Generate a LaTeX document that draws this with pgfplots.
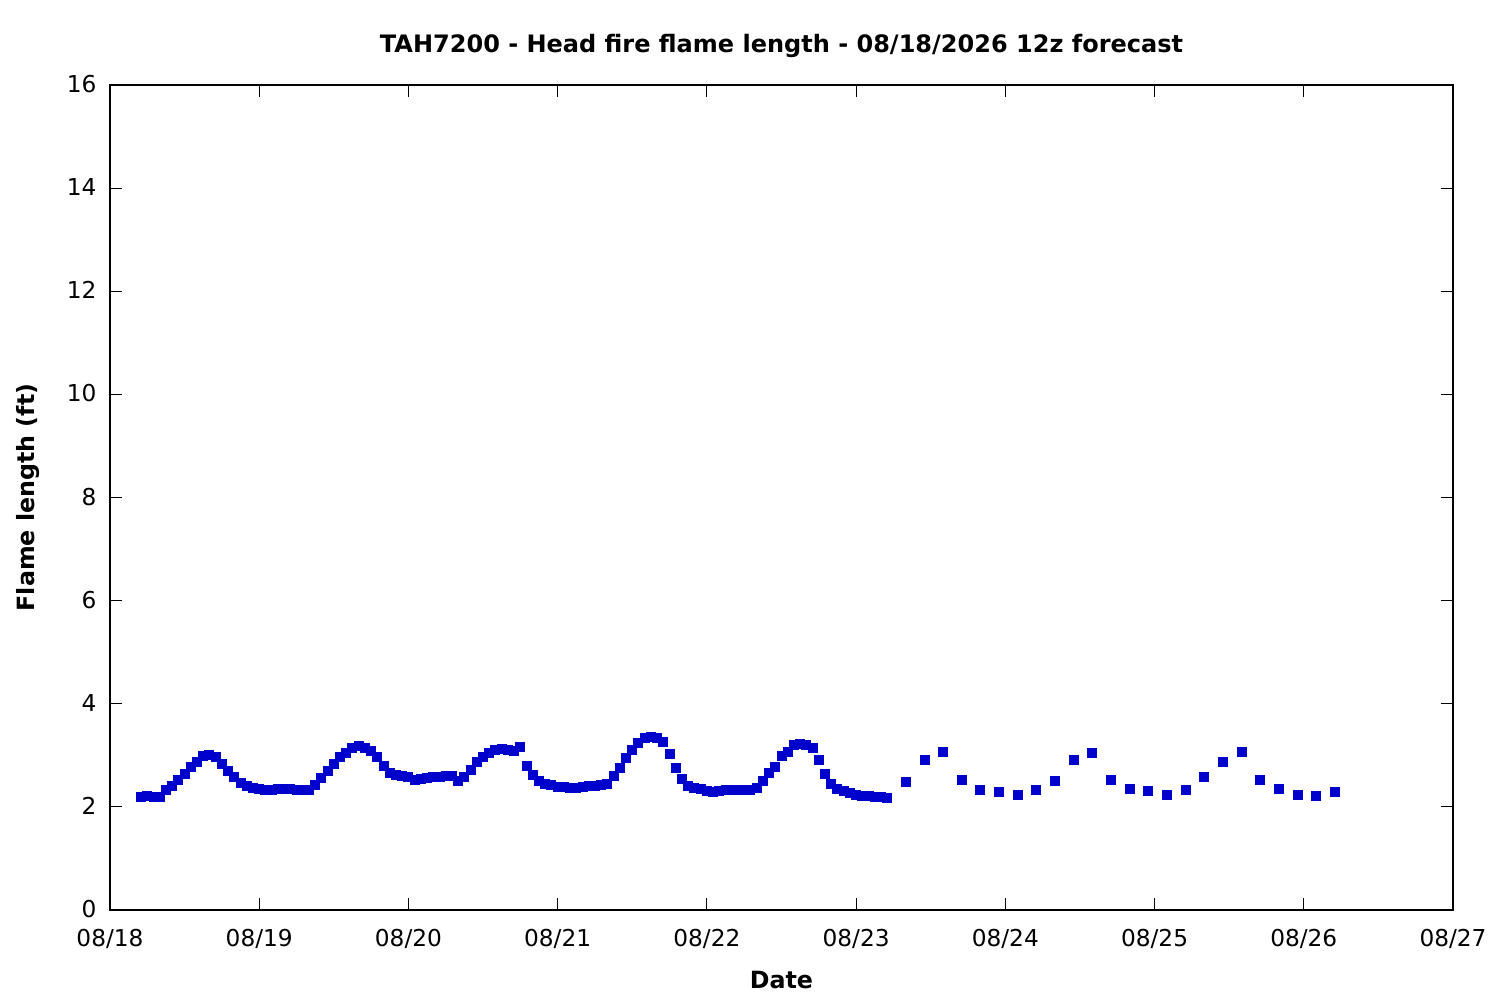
\documentclass[border=0pt]{standalone}
\usepackage{pgfplots}
\pgfplotsset{compat=1.18}
\usepackage{pgfplotstable}
\usepackage{fontspec}
\setmainfont{DejaVu Sans}
\definecolor{ptblue}{RGB}{0,0,204}

\pgfplotstableread{
h v
5 2.20
6 2.22
7 2.19
8 2.19
9 2.32
10 2.40
11 2.52
12 2.63
13 2.78
14 2.88
15 2.98
16 3.00
17 2.97
18 2.84
19 2.70
20 2.57
21 2.47
22 2.40
23 2.37
24 2.34
25 2.32
26 2.33
27 2.35
28 2.35
29 2.34
30 2.33
31 2.33
32 2.33
33 2.43
34 2.56
35 2.70
36 2.84
37 2.97
38 3.05
39 3.14
40 3.18
41 3.15
42 3.08
43 2.96
44 2.79
45 2.65
46 2.61
47 2.59
48 2.57
49 2.52
50 2.54
51 2.56
52 2.58
53 2.58
54 2.59
55 2.59
56 2.51
57 2.58
58 2.72
59 2.88
60 2.97
61 3.05
62 3.11
63 3.12
64 3.11
65 3.09
66 3.16
67 2.80
68 2.61
69 2.51
70 2.45
71 2.43
72 2.39
73 2.39
74 2.37
75 2.36
76 2.38
77 2.40
78 2.40
79 2.42
80 2.45
81 2.59
82 2.76
83 2.94
84 3.11
85 3.23
86 3.34
87 3.36
88 3.34
89 3.25
90 3.02
91 2.76
92 2.54
93 2.41
94 2.36
95 2.34
96 2.30
97 2.28
98 2.30
99 2.32
100 2.32
101 2.32
102 2.32
103 2.32
104 2.37
105 2.51
106 2.65
107 2.78
108 2.98
109 3.07
110 3.20
111 3.22
112 3.20
113 3.15
114 2.90
115 2.63
116 2.44
117 2.34
118 2.30
119 2.27
120 2.24
121 2.22
122 2.21
123 2.20
124 2.19
125 2.18
128 2.48
131 2.90
134 3.06
137 2.52
140 2.32
143 2.28
146 2.24
149 2.32
152 2.50
155 2.90
158 3.04
161 2.52
164 2.34
167 2.30
170 2.24
173 2.32
176 2.57
179 2.88
182 3.06
185 2.53
188 2.34
191 2.24
194 2.22
197 2.28
}\flame

\begin{document}
\begin{tikzpicture}
\useasboundingbox (-44pt,-36pt) rectangle (556pt,364pt);
\begin{axis}[
  at={(0,0)}, anchor=south west,
  scale only axis,
  width=537.2pt, height=330pt,
  xmin=0, xmax=216, ymin=0, ymax=16,
  xtick={0,24,...,216},
  xticklabels={08/18,08/19,08/20,08/21,08/22,08/23,08/24,08/25,08/26,08/27},
  ytick={0,2,...,16},
  tick align=inside,
  major tick length=4.7pt,
  tick style={black, line width=0.45pt},
  axis line style={black, line width=0.45pt},
  /pgf/number format/assume math mode=true,
  ticklabel style={font=\fontsize{9.3}{11}\selectfont},
  xticklabel style={anchor=base, inner sep=0pt, yshift=-14.7pt},
  yticklabel style={anchor=base east, inner sep=0pt, xshift=-5.2pt, yshift=-3pt},
  title={TAH7200 - Head fire flame length - 08/18/2026 12z forecast},
  title style={at={(axis description cs:0.5,1.0218)}, anchor=base, yshift=0pt, inner sep=0pt, font=\fontsize{9.6}{11}\selectfont\bfseries},
  xlabel={Date},
  xlabel style={at={(axis description cs:0.5,-0.09455)}, anchor=base, inner sep=0pt, font=\fontsize{9.5}{11}\selectfont\bfseries},
  ylabel={Flame length (ft)},
  ylabel style={at={(axis description cs:-0.05585,0.5)}, anchor=base, rotate=0, inner sep=0pt, font=\fontsize{9.5}{11}\selectfont\bfseries},
  clip=false,
]
\addplot[only marks, mark=square*, mark size=1.8pt, color=ptblue, mark options={draw=ptblue, fill=ptblue, line width=0pt}] table[x=h, y=v] {\flame};
\end{axis}
\end{tikzpicture}
\end{document}
